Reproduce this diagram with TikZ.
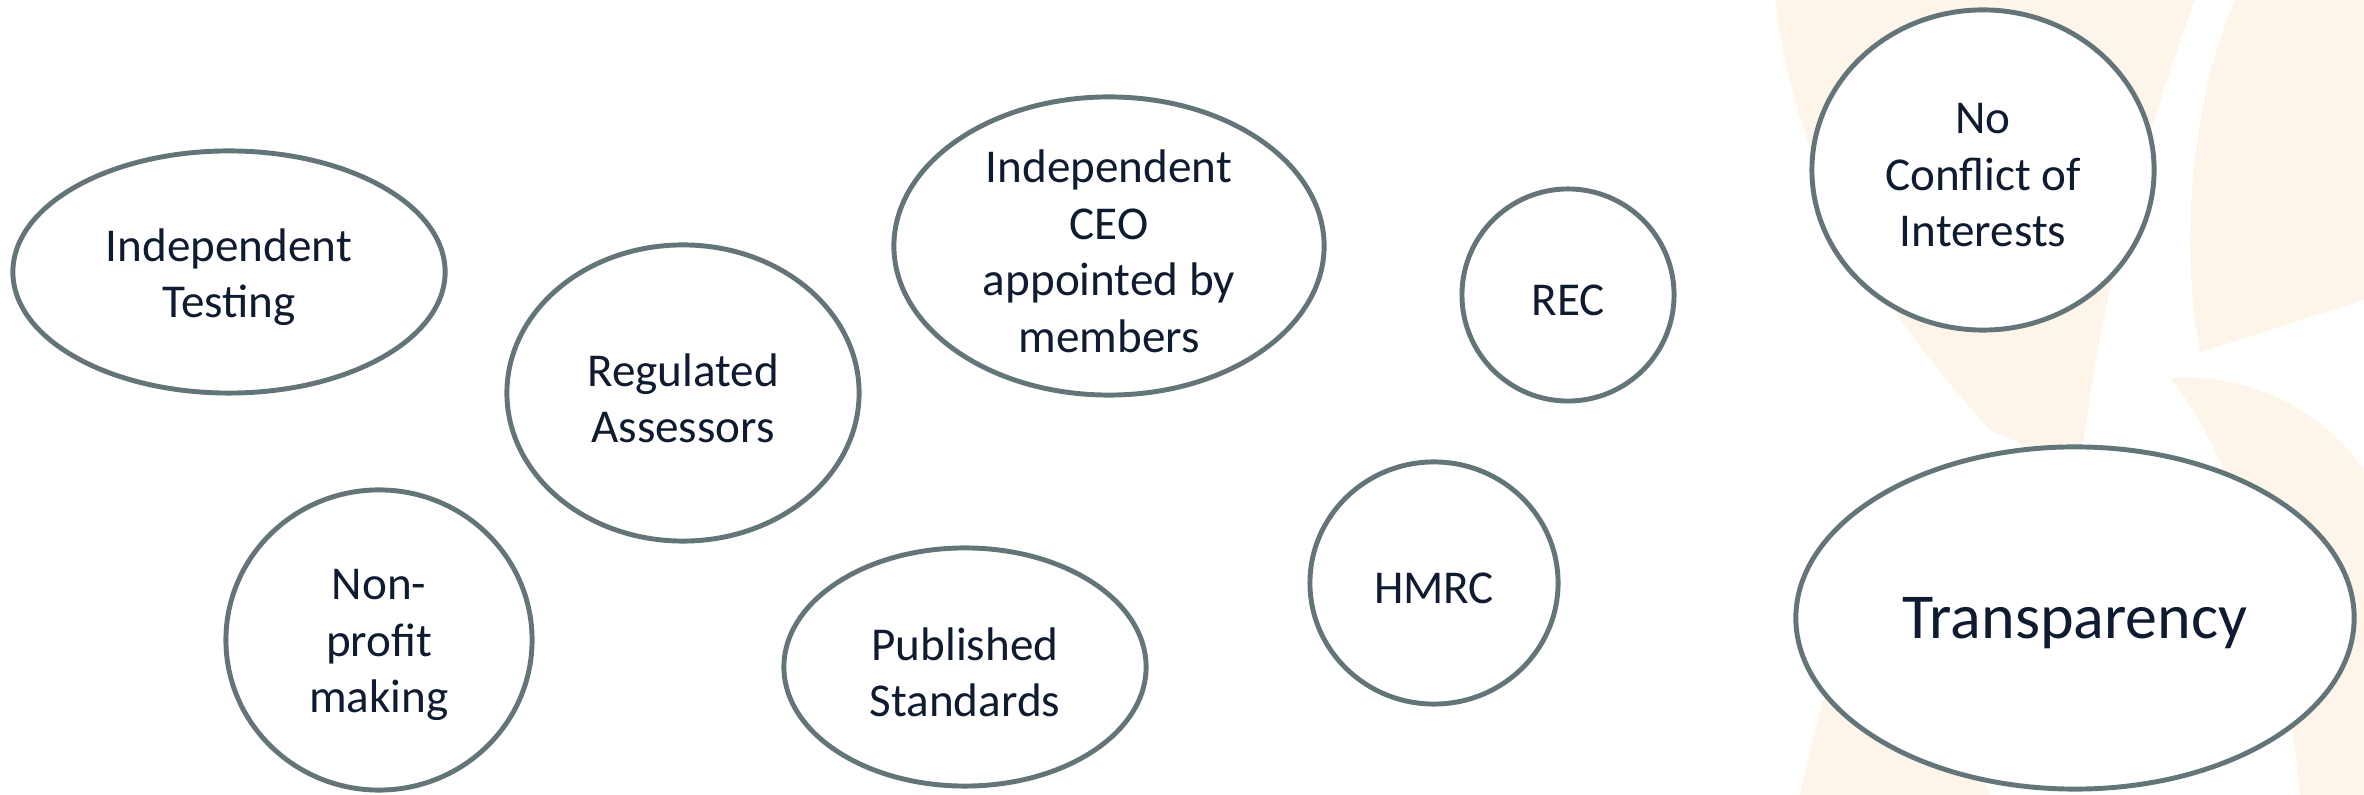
\documentclass[tikz,border=0pt]{standalone}
\usepackage{fontspec}
\setmainfont{Carlito}
\usetikzlibrary{shapes.geometric}
\usetikzlibrary{positioning}

\definecolor{rimgrey}{RGB}{99,117,120}
\definecolor{inknavy}{RGB}{14,27,48}
\definecolor{peach}{RGB}{254,245,234}

\tikzset{
  bubble/.style={ellipse, draw=rimgrey, line width=1.4pt, fill=white, inner sep=0pt},
  caption/.style={align=center, text=inknavy, yshift=-1.5pt, font=\fontsize{13.4}{16.1}\selectfont},
  bigcaption/.style={caption, font=\fontsize{18.2}{22}\selectfont},
}

\begin{document}
\begin{tikzpicture}[x=0.01cm, y=-0.01cm]
    \useasboundingbox (0,0) rectangle (2364,795);

    % faint logo petals behind the right hand side
    \fill[peach] (1775,0) .. controls (1800,200) and (1900,330) .. (1990,430)
        -- (2080,470) .. controls (2100,300) and (2140,150) .. (2195,0) -- cycle;
    \fill[peach] (2235,0) -- (2364,0) -- (2364,300) .. controls (2300,320) and (2240,340) .. (2200,352)
        .. controls (2180,250) and (2190,100) .. (2235,0) -- cycle;
    \fill[peach] (2170,378) .. controls (2260,372) and (2330,420) .. (2364,470)
        -- (2364,795) -- (2300,795) .. controls (2280,600) and (2230,450) .. (2170,378) -- cycle;
    \fill[peach] (1800,795) .. controls (1830,650) and (1870,560) .. (1920,500)
        .. controls (1930,600) and (1950,700) .. (1990,795) -- cycle;

    \node[bubble, minimum width=4.32cm, minimum height=2.42cm] (testing) at (229,272) {};
    \node[caption] (testingtxt) at (testing) {Independent\\Testing};

    \node[bubble, minimum width=3.52cm, minimum height=2.96cm] (assessors) at (683,393) {};
    \node[caption] (assessorstxt) at (assessors) {Regulated\\Assessors};

    \node[bubble, minimum width=4.30cm, minimum height=2.98cm] (ceo) at (1109,246) {};
    \node[caption] (ceotxt) at (ceo) {Independent\\CEO\\appointed by\\members};

    \node[bubble, minimum width=2.12cm, minimum height=2.12cm] (rec) at (1568,295) {};
    \node[caption] (rectxt) at (rec) {REC};

    \node[bubble, minimum width=3.42cm, minimum height=3.20cm] (conflict) at (1983,170) {};
    \node[caption] (conflicttxt) at (conflict) {No\\Conflict of\\Interests};

    \node[bubble, minimum width=3.06cm, minimum height=3.00cm] (nonprofit) at (379,640) {};
    \node[caption] (nonprofittxt) at (nonprofit) {Non-\\profit\\making};

    \node[bubble, minimum width=3.62cm, minimum height=2.38cm] (standards) at (965,667) {};
    \node[caption] (standardstxt) at (standards) {Published\\Standards};

    \node[bubble, minimum width=2.48cm, minimum height=2.42cm] (hmrc) at (1434,583) {};
    \node[caption] (hmrctxt) at (hmrc) {HMRC};

    \node[bubble, minimum width=5.58cm, minimum height=3.42cm] (transparency) at (2075,618) {};
    \node[bigcaption] (transparencytxt) at (transparency) {Transparency};
\end{tikzpicture}
\end{document}
